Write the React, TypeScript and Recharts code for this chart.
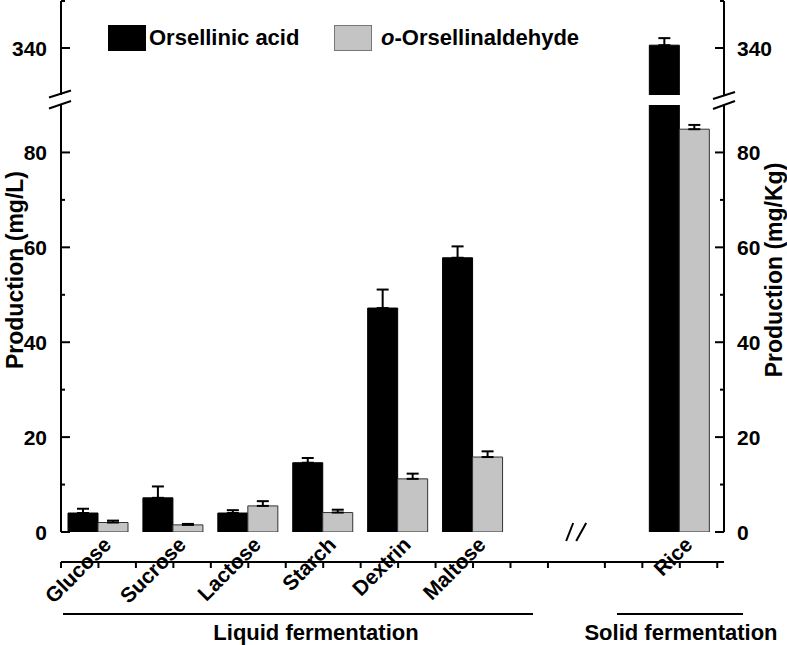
import React from 'react';
import { ComposedChart, Bar, XAxis, YAxis, ErrorBar } from 'recharts';

// ---------- data ----------
const categories = ['Glucose', 'Sucrose', 'Lactose', 'Starch', 'Dextrin', 'Maltose', 'Rice'];
const orsellinicAcid = [4.0, 7.2, 4.0, 14.6, 47.2, 57.8, 340.6];
const orsellinicAcidErr = [0.9, 2.4, 0.6, 1.0, 3.9, 2.4, 1.5];
const orsellinaldehyde = [2.0, 1.5, 5.5, 4.1, 11.2, 15.8, 84.9];
const orsellinaldehydeErr = [0.4, 0.2, 1.0, 0.6, 1.1, 1.2, 0.9];
const lowerTicks = [0, 10, 20, 30, 40, 50, 60, 70, 80];
const upperTicks = [340, 350];
const seriesNames = ['Orsellinic acid', 'o-Orsellinaldehyde'];
const axisTitles = ['Production (mg/L)', 'Production (mg/Kg)'];
const groupLabels = ['Liquid fermentation', 'Solid fermentation'];

// ---------- layout ----------
const W = 787;
const H = 645;
const PL = 61;
const PR = 724;
const LOW_TOP = 105;
const LOW_BOT = 532;
const UP_TOP = 1;
const UP_BOT = 95;
const LOW_DOMAIN: [number, number] = [0, 90];
const UP_DOMAIN: [number, number] = [330, 350];
const BREAK_SPAN = 2.76; // compressed distance Maltose -> Rice (broken x axis)
const FONT = '"Liberation Sans", Arial, Helvetica, sans-serif';
const GRAY = '#c4c4c4';

const slots = categories.map((_, i) => (i < categories.length - 1 ? i + 1 : categories.length - 1 + BREAK_SPAN));
const RICE = slots[slots.length - 1];
const X_MIN = 0.5;
const X_MAX = RICE + 0.59;
const xTicks = [0.5, 1, 1.5, 2, 2.5, 3, 3.5, 4, 4.5, 5, 5.5, 6, 6.5, 7, RICE - 1, RICE - 0.5, RICE, RICE + 0.5];
const xPix = (v: number) => PL + ((v - X_MIN) / (X_MAX - X_MIN)) * (PR - PL);

const lowerRows = categories.map((c, i) => ({
  name: c,
  x: slots[i],
  oa: orsellinicAcid[i],
  oaErr: [0, orsellinicAcidErr[i]],
  od: orsellinaldehyde[i],
  odErr: [0, orsellinaldehydeErr[i]],
}));

const inUpper = (v: number) => v >= UP_DOMAIN[0];
const upperRows = categories.map((c, i) => ({
  name: c,
  x: slots[i],
  oa: inUpper(orsellinicAcid[i]) ? orsellinicAcid[i] : null,
  oaErr: inUpper(orsellinicAcid[i]) ? [0, orsellinicAcidErr[i]] : null,
  od: inUpper(orsellinaldehyde[i]) ? orsellinaldehyde[i] : null,
  odErr: inUpper(orsellinaldehyde[i]) ? [0, orsellinaldehydeErr[i]] : null,
}));

const makeYTick = (side: 'left' | 'right') => (props: any) => {
  const { y, payload } = props;
  const v = payload.value;
  const major = v % 20 === 0;
  const ax = side === 'left' ? PL : PR;
  const len = major ? 9 : 4;
  const x2 = side === 'left' ? ax + len : ax - len;
  return (
    <g>
      <line x1={ax} y1={y} x2={x2} y2={y} stroke="#000" strokeWidth={2} />
      {major && (
        <text
          x={side === 'left' ? ax - 14 : ax + 13}
          y={y}
          dy="0.36em"
          textAnchor={side === 'left' ? 'end' : 'start'}
          fontFamily={FONT}
          fontWeight="bold"
          fontSize={21}
          fill="#000"
        >
          {v}
        </text>
      )}
    </g>
  );
};

const XTick = (props: any) => {
  const { payload } = props;
  const idx = slots.indexOf(payload.value);
  if (idx < 0) return <g />;
  const tx = payload.coordinate + 14;
  const ty = LOW_BOT + 14;
  return (
    <text
      x={tx}
      y={ty}
      transform={`rotate(-45, ${tx}, ${ty})`}
      textAnchor="end"
      fontFamily={FONT}
      fontWeight="bold"
      fontSize={21}
      fill="#000"
    >
      {categories[idx]}
    </text>
  );
};

const axisLine = { stroke: '#000', strokeWidth: 2 };

export default function App() {
  const margin = { left: PL - 50, right: W - PR - 50 };
  const brk = xPix(7.39);
  return (
    <div style={{ position: 'absolute', left: 0, top: 0, width: W, height: H, background: '#fff' }}>
      {/* lower segment */}
      <div style={{ position: 'absolute', left: 0, top: 0 }}>
        <ComposedChart
          width={W}
          height={H}
          data={lowerRows}
          barGap={0}
          margin={{ top: LOW_TOP, bottom: H - LOW_BOT - 30, left: margin.left, right: margin.right }}
        >
          <XAxis xAxisId="bars" dataKey="x" type="number" domain={[X_MIN, X_MAX]} ticks={slots} allowDataOverflow hide />
          <XAxis
            xAxisId="ticks"
            dataKey="x"
            type="number"
            domain={[X_MIN, X_MAX]}
            ticks={xTicks}
            interval={0}
            allowDataOverflow
            height={30}
            axisLine={axisLine}
            tickLine={{ stroke: '#000', strokeWidth: 2 }}
            tickSize={6}
            tick={<XTick />}
          />
          <YAxis
            yAxisId="left"
            orientation="left"
            width={50}
            domain={LOW_DOMAIN}
            ticks={lowerTicks}
            interval={0}
            allowDataOverflow
            axisLine={axisLine}
            tickLine={false}
            tick={makeYTick('left')}
          />
          <YAxis
            yAxisId="right"
            orientation="right"
            width={50}
            domain={LOW_DOMAIN}
            ticks={lowerTicks}
            interval={0}
            allowDataOverflow
            axisLine={axisLine}
            tickLine={false}
            tick={makeYTick('right')}
          />
          <Bar xAxisId="bars" yAxisId="left" dataKey="oa" name={seriesNames[0]} fill="#000" stroke="#000" strokeWidth={1} barSize={30} isAnimationActive={false}>
            <ErrorBar dataKey="oaErr" direction="y" width={6} stroke="#000" strokeWidth={2} />
          </Bar>
          <Bar xAxisId="bars" yAxisId="left" dataKey="od" name={seriesNames[1]} fill={GRAY} stroke="#333" strokeWidth={1} barSize={30} isAnimationActive={false}>
            <ErrorBar dataKey="odErr" direction="y" width={6} stroke="#000" strokeWidth={2} />
          </Bar>
        </ComposedChart>
      </div>
      {/* upper segment */}
      <div style={{ position: 'absolute', left: 0, top: 0 }}>
        <ComposedChart
          width={W}
          height={UP_BOT + 5}
          data={upperRows}
          barGap={0}
          margin={{ top: UP_TOP, bottom: 5, left: margin.left, right: margin.right }}
        >
          <XAxis xAxisId="bars" dataKey="x" type="number" domain={[X_MIN, X_MAX]} ticks={slots} allowDataOverflow hide />
          <YAxis
            yAxisId="left"
            orientation="left"
            width={50}
            domain={UP_DOMAIN}
            ticks={upperTicks}
            interval={0}
            allowDataOverflow
            axisLine={axisLine}
            tickLine={false}
            tick={makeYTick('left')}
          />
          <YAxis
            yAxisId="right"
            orientation="right"
            width={50}
            domain={UP_DOMAIN}
            ticks={upperTicks}
            interval={0}
            allowDataOverflow
            axisLine={axisLine}
            tickLine={false}
            tick={makeYTick('right')}
          />
          <Bar xAxisId="bars" yAxisId="left" dataKey="oa" name={seriesNames[0]} fill="#000" stroke="#000" strokeWidth={1} barSize={30} isAnimationActive={false}>
            <ErrorBar dataKey="oaErr" direction="y" width={6} stroke="#000" strokeWidth={2} />
          </Bar>
          <Bar xAxisId="bars" yAxisId="left" dataKey="od" name={seriesNames[1]} fill={GRAY} stroke="#333" strokeWidth={1} barSize={30} isAnimationActive={false} />
        </ComposedChart>
      </div>
      {/* decorations: legend, breaks, group labels, axis titles */}
      <svg width={W} height={H} style={{ position: 'absolute', left: 0, top: 0, pointerEvents: 'none' }}>
        <g fontFamily={FONT} fontWeight="bold" fill="#000">
          <rect x={108} y={25} width={38} height={26} fill="#000" />
          <text x={149} y={45} fontSize={22}>{seriesNames[0]}</text>
          <rect x={334.5} y={25.5} width={37} height={25} fill={GRAY} stroke="#777" strokeWidth={1} />
          <text x={381} y={45} fontSize={22}>
            <tspan fontStyle="italic">{seriesNames[1].slice(0, 1)}</tspan>
            {seriesNames[1].slice(1)}
          </text>

          {/* y-axis breaks */}
          <line x1={49} y1={97.5} x2={71} y2={90.5} stroke="#000" strokeWidth={2} />
          <line x1={49} y1={108.5} x2={71} y2={101} stroke="#000" strokeWidth={2} />
          <line x1={713} y1={99} x2={735} y2={92} stroke="#000" strokeWidth={2} />
          <line x1={713} y1={109} x2={735} y2={101} stroke="#000" strokeWidth={2} />

          {/* x-axis break */}
          <rect x={brk - 5} y={LOW_BOT - 3} width={12} height={6} fill="#fff" />
          <line x1={brk - 11} y1={LOW_BOT + 9} x2={brk - 4} y2={LOW_BOT - 9} stroke="#000" strokeWidth={2} />
          <line x1={brk - 1} y1={LOW_BOT + 9} x2={brk + 9} y2={LOW_BOT - 9} stroke="#000" strokeWidth={2} />

          {/* group labels */}
          <line x1={63} y1={614} x2={533} y2={614} stroke="#000" strokeWidth={2} />
          <text x={316} y={640} fontSize={22} textAnchor="middle">{groupLabels[0]}</text>
          <line x1={617} y1={614} x2={743} y2={614} stroke="#000" strokeWidth={2} />
          <text x={681} y={640} fontSize={22} textAnchor="middle">{groupLabels[1]}</text>

          {/* axis titles */}
          <text x={0} y={0} fontSize={23} textAnchor="middle" transform={`translate(23, 270) rotate(-90)`}>{axisTitles[0]}</text>
          <text x={0} y={0} fontSize={23} textAnchor="middle" transform={`translate(782, 270) rotate(-90)`}>{axisTitles[1]}</text>
        </g>
      </svg>
    </div>
  );
}
